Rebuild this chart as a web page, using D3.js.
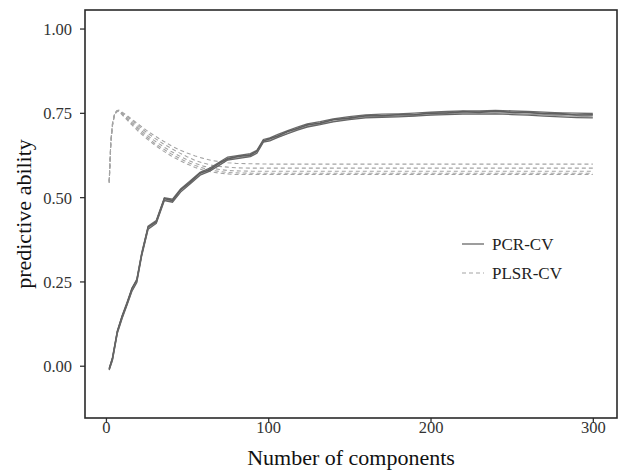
<!DOCTYPE html>
<html>
<head>
<meta charset="utf-8">
<script src="https://cdn.jsdelivr.net/npm/d3@7"></script>
<style>
  body { margin: 0; background: #fff; }
  svg text { font-family: "Liberation Serif", "Times New Roman", serif; }
</style>
</head>
<body>
<svg id="chart" width="620" height="472"></svg>
<script>
var pcrComps = [2,4,7,10,13,16,19,22,26,31,36,41,46,52,58,64,70,75,82,89,93,97,101,106,112,118,124,132,140,150,160,170,180,190,200,210,220,230,240,250,260,270,280,290,300];

// PCR-CV, five CV replicates
var pcr1 = [-0.008,0.024,0.103,0.149,0.188,0.229,0.256,0.334,0.414,0.431,0.498,0.494,0.524,0.549,0.574,0.586,0.604,0.619,0.624,0.629,0.639,0.671,0.676,0.686,0.697,0.708,0.717,0.724,0.732,0.739,0.744,0.746,0.747,0.749,0.752,0.754,0.756,0.756,0.757,0.756,0.754,0.752,0.750,0.749,0.748];
var pcr2 = [-0.010,0.020,0.100,0.146,0.185,0.226,0.252,0.331,0.410,0.428,0.495,0.491,0.520,0.546,0.570,0.582,0.600,0.615,0.620,0.626,0.635,0.668,0.672,0.682,0.694,0.704,0.713,0.720,0.729,0.735,0.740,0.742,0.744,0.745,0.748,0.750,0.752,0.753,0.754,0.752,0.750,0.748,0.746,0.744,0.743];
var pcr3 = [-0.012,0.017,0.097,0.142,0.182,0.222,0.249,0.327,0.407,0.424,0.492,0.487,0.517,0.542,0.567,0.579,0.597,0.612,0.617,0.622,0.632,0.665,0.669,0.679,0.690,0.701,0.710,0.717,0.725,0.732,0.737,0.739,0.740,0.742,0.745,0.747,0.749,0.749,0.751,0.749,0.746,0.744,0.742,0.740,0.738];
var pcr4 = [-0.009,0.022,0.101,0.147,0.184,0.230,0.254,0.329,0.412,0.426,0.496,0.489,0.522,0.544,0.572,0.581,0.602,0.613,0.622,0.624,0.637,0.666,0.674,0.681,0.695,0.703,0.715,0.719,0.730,0.734,0.742,0.741,0.745,0.744,0.750,0.749,0.754,0.751,0.756,0.751,0.752,0.747,0.748,0.743,0.745];
var pcr5 = [-0.013,0.016,0.096,0.141,0.180,0.221,0.247,0.325,0.405,0.422,0.490,0.485,0.515,0.540,0.565,0.577,0.595,0.610,0.615,0.620,0.630,0.663,0.667,0.677,0.688,0.699,0.708,0.715,0.723,0.730,0.735,0.737,0.738,0.740,0.743,0.745,0.746,0.746,0.747,0.745,0.743,0.740,0.738,0.736,0.735];

var plsrComps = [2,3,4,5,6,7,8,10,13,16,20,25,30,35,40,45,50,55,60,65,70,75,80,90,100,150,200,250,300];

// PLSR-CV, five CV replicates
var plsr1 = [0.548,0.665,0.718,0.742,0.753,0.757,0.758,0.752,0.742,0.731,0.716,0.698,0.682,0.667,0.653,0.641,0.631,0.622,0.615,0.609,0.605,0.602,0.600,0.599,0.598,0.598,0.598,0.598,0.598];
var plsr2 = [0.546,0.662,0.716,0.740,0.752,0.757,0.757,0.750,0.739,0.727,0.711,0.692,0.675,0.659,0.645,0.632,0.620,0.609,0.601,0.595,0.591,0.589,0.587,0.586,0.586,0.586,0.586,0.586,0.586];
var plsr3 = [0.544,0.660,0.714,0.739,0.751,0.756,0.756,0.748,0.735,0.722,0.705,0.685,0.667,0.651,0.636,0.623,0.611,0.600,0.592,0.586,0.582,0.579,0.578,0.577,0.577,0.577,0.577,0.577,0.577];
var plsr4 = [0.543,0.658,0.712,0.738,0.750,0.755,0.755,0.746,0.732,0.718,0.700,0.679,0.660,0.644,0.629,0.616,0.604,0.594,0.586,0.580,0.576,0.573,0.572,0.571,0.571,0.571,0.571,0.571,0.571];
var plsr5 = [0.542,0.656,0.711,0.737,0.749,0.754,0.754,0.744,0.729,0.714,0.695,0.674,0.655,0.638,0.623,0.610,0.598,0.588,0.580,0.575,0.571,0.569,0.567,0.567,0.567,0.567,0.567,0.567,0.567];

var xTicks = [0, 100, 200, 300];
var yTicks = [0, 0.25, 0.5, 0.75, 1];
var legendLabels = ["PCR-CV", "PLSR-CV"];

var serif = '"Liberation Serif", "Times New Roman", serif';

var svg = d3.select("#chart");
var margin = {top: 10, right: 3, bottom: 54, left: 85},
    width = 620 - margin.left - margin.right,
    height = 472 - margin.top - margin.bottom;

var g = svg.append("g")
    .attr("transform", "translate(" + margin.left + "," + margin.top + ")");

// ggplot style 5% expansion
var x = d3.scaleLinear().domain([2 - 14.9, 300 + 14.9]).range([0, width]);
var y = d3.scaleLinear().domain([-0.155, 1.055]).range([height, 0]);

var line = d3.line()
    .x(function(d) { return x(d[0]); })
    .y(function(d) { return y(d[1]); });

function pairs(xs, ys) {
  return xs.map(function(c, i) { return [c, ys[i]]; });
}

// PLSR first (lighter, underneath)
var plsrSeries = [plsr1, plsr2, plsr3, plsr4, plsr5];
plsrSeries.forEach(function(s) {
  g.append("path")
      .datum(pairs(plsrComps, s))
      .attr("fill", "none")
      .attr("stroke", "#a4a4a4")
      .attr("stroke-width", 1.1)
      .attr("stroke-dasharray", "4,3")
      .attr("d", line);
});

var pcrSeries = [pcr1, pcr2, pcr3, pcr4, pcr5];
var pcrColors = ["#6a6a6a", "#5c5c5c", "#9c9c9c", "#5f5f5f", "#666666"];
pcrSeries.forEach(function(s, i) {
  g.append("path")
      .datum(pairs(pcrComps, s))
      .attr("fill", "none")
      .attr("stroke", pcrColors[i])
      .attr("stroke-width", 1.3)
      .attr("d", line);
});

// axes
var xAxis = g.append("g")
    .attr("font-family", serif)
    .attr("transform", "translate(0," + height + ")")
    .call(d3.axisBottom(x).tickValues(xTicks).tickSize(5).tickFormat(d3.format("d")));
xAxis.attr("font-family", serif);
xAxis.select(".domain").remove();
xAxis.selectAll("line").attr("stroke", "#333").attr("stroke-width", 1.3);
xAxis.selectAll("text")
    .attr("y", 15).attr("dy", 0)
    .attr("fill", "#333")
    .style("font-family", serif)
    .style("font-size", "16.5px");

var yAxis = g.append("g")
    .call(d3.axisLeft(y).tickValues(yTicks).tickSize(5).tickFormat(d3.format(".2f")));
yAxis.attr("font-family", serif);
yAxis.select(".domain").remove();
yAxis.selectAll("line").attr("stroke", "#333").attr("stroke-width", 1.3);
yAxis.selectAll("text")
    .attr("x", -13)
    .attr("dy", "0.36em")
    .attr("fill", "#333")
    .style("font-family", serif)
    .style("font-size", "16.5px");

// panel border
g.append("rect")
    .attr("width", width)
    .attr("height", height)
    .attr("fill", "none")
    .attr("stroke", "#2a2a2a")
    .attr("stroke-width", 1.6);

// axis titles
svg.append("text")
    .attr("x", margin.left + width / 2)
    .attr("y", 465)
    .attr("text-anchor", "middle")
    .style("font-size", "22px")
    .attr("fill", "#111")
    .text("Number of components");

svg.append("text")
    .attr("transform", "translate(31," + (margin.top + height / 2) + ") rotate(-90)")
    .attr("text-anchor", "middle")
    .style("font-size", "22px")
    .attr("fill", "#111")
    .text("predictive ability");

// legend
var legend = svg.append("g").attr("transform", "translate(462,244)");
legendLabels.forEach(function(lab, i) {
  var row = legend.append("g").attr("transform", "translate(0," + (i * 29) + ")");
  row.append("line")
      .attr("x1", 0).attr("x2", 22)
      .attr("stroke", i == 0 ? "#5c5c5c" : "#a4a4a4")
      .attr("stroke-width", 1.2)
      .attr("stroke-dasharray", i == 0 ? null : "4,3");
  row.append("text")
      .attr("x", 30)
      .attr("y", 6)
      .style("font-size", "17px")
      .attr("fill", "#222")
      .text(lab);
});
</script>
</body>
</html>
